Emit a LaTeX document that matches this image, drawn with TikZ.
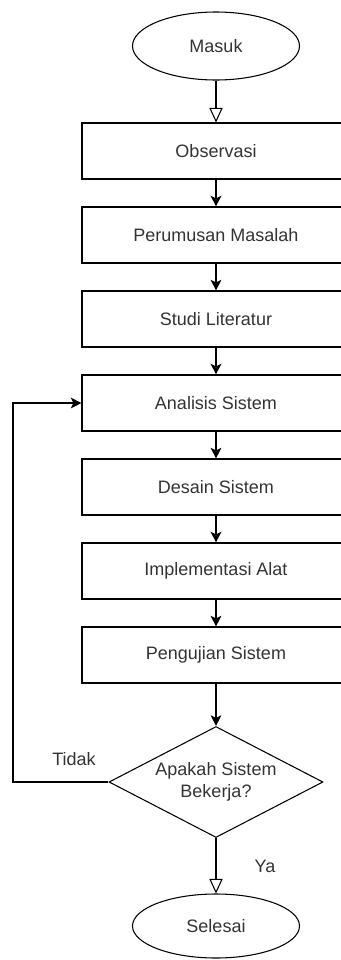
\documentclass[tikz,border=0pt]{standalone}
\usepackage{fontspec}
\setmainfont{Liberation Sans}
\usetikzlibrary{shapes.geometric,arrows.meta}
\definecolor{teksabu}{HTML}{333333}
\tikzset{
  proses/.style={draw, rectangle, minimum width=201pt, minimum height=42pt, inner sep=0pt},
  terminal/.style={draw, ellipse, minimum width=125.25pt, minimum height=51pt, inner sep=0pt},
  keputusan/.style={draw, diamond, shape aspect=2, minimum width=160.5pt, minimum height=83.25pt,
    inner sep=0pt, align=center, font=\fontsize{13.5}{16.5}\selectfont},
  panah/.style={-{Stealth[length=8pt,width=8pt,inset=2pt]}},
  panahbuka/.style={-{Triangle[open,length=11pt,width=10pt]}},
}

\begin{document}
\begin{tikzpicture}[x=0.75pt,y=-0.75pt,line width=0.8pt,
    font=\fontsize{13.5}{16}\selectfont, text=teksabu]
    \useasboundingbox (0,0) rectangle (341,960);

    \node[terminal] (masuk) at (216,46) {Masuk};

    \node[proses] (obs) at (216,151) {Observasi};
    \node[proses] (rumus) at (216,235) {Perumusan Masalah};
    \node[proses] (studi) at (216,319) {Studi Literatur};
    \node[proses] (analisis) at (216,403) {Analisis Sistem};
    \node[proses] (desain) at (216,487) {Desain Sistem};
    \node[proses] (impl) at (216,571) {Implementasi Alat};
    \node[proses] (uji) at (216,655) {Pengujian Sistem};

    \node[keputusan] (cek) at (216,782) {Apakah Sistem\\Bekerja?};

    \node[terminal, minimum height=48pt] (selesai) at (216,926) {Selesai};

    \draw[panahbuka] (masuk) -- (obs);
    \draw[panah] (obs) -- (rumus);
    \draw[panah] (rumus) -- (studi);
    \draw[panah] (studi) -- (analisis);
    \draw[panah] (analisis) -- (desain);
    \draw[panah] (desain) -- (impl);
    \draw[panah] (impl) -- (uji);
    \draw[panah] (uji) -- (cek);

    % kembali ke analisis
    \coordinate (balik) at (13,782);
    \draw[panah] (cek.west) -- (balik) |- (analisis.west);
    \node (tidak) at (74,759) {Tidak};

    \draw[panahbuka] (cek.south) -- (selesai.north);
    \node (ya) at (265,866) {Ya};

\end{tikzpicture}
\end{document}
